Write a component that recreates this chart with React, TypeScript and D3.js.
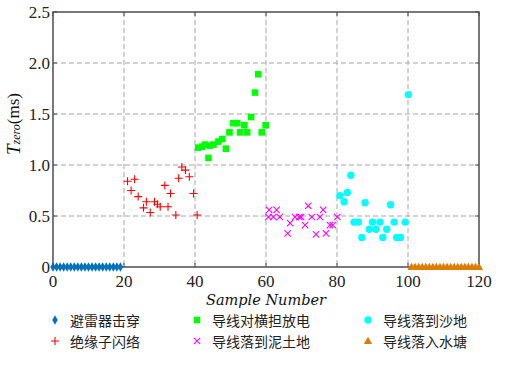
import React from "react";
import * as d3 from "d3";

// 避雷器击穿 (blue diamonds at zero)
const arresterX = [0, 1, 2, 3, 4, 5, 6, 7, 8, 9, 10, 11, 12, 13, 14, 15, 16, 17, 18, 19];
const arresterY = [0, 0, 0, 0, 0, 0, 0, 0, 0, 0, 0, 0, 0, 0, 0, 0, 0, 0, 0, 0];

// 绝缘子闪络
const insulatorX = [21, 22, 23, 24, 25.5, 26.3, 27.4, 28.6, 29.4, 30.2, 31.5, 32.4, 33.1, 34.6, 35.4, 36.3, 37.3, 38.4, 39.6, 40.6];
const insulatorY = [0.84, 0.75, 0.86, 0.69, 0.58, 0.64, 0.535, 0.64, 0.615, 0.59, 0.8, 0.59, 0.72, 0.51, 0.87, 0.98, 0.95, 0.885, 0.72, 0.51];

// 导线对横担放电
const crossarmX = [40.9, 42, 42.8, 43.8, 44.2, 45.2, 46.6, 47.7, 48.7, 49.7, 50.8, 51.9, 52.7, 53.9, 54.7, 55.8, 56.9, 57.8, 58.8, 59.9];
const crossarmY = [1.17, 1.18, 1.2, 1.07, 1.19, 1.2, 1.23, 1.255, 1.16, 1.32, 1.41, 1.41, 1.32, 1.39, 1.32, 1.47, 1.71, 1.89, 1.32, 1.39];

// 导线落到泥土地
const mudX = [60.9, 60.7, 62.1, 63, 63.9, 66.1, 66.8, 68.2, 69.4, 69.9, 71, 71.9, 72.9, 74.1, 75.2, 76.1, 76.9, 78, 78.8, 80.1];
const mudY = [0.56, 0.49, 0.49, 0.56, 0.49, 0.33, 0.43, 0.49, 0.49, 0.49, 0.41, 0.6, 0.49, 0.32, 0.49, 0.56, 0.33, 0.41, 0.41, 0.49];

// 导线落到沙地
const sandX = [80.8, 82, 82.9, 83.9, 84.8, 86, 87, 87.9, 89.1, 90, 91, 92.1, 92.9, 94, 95.1, 96.1, 96.8, 97.9, 99.2, 100.1];
const sandY = [0.7, 0.64, 0.73, 0.9, 0.44, 0.44, 0.29, 0.63, 0.37, 0.44, 0.37, 0.44, 0.29, 0.37, 0.61, 0.44, 0.29, 0.29, 0.44, 1.69];

// 导线落入水塘 (orange triangles at zero)
const pondX = [101, 102, 103, 104, 105, 106, 107, 108, 109, 110, 111, 112, 113, 114, 115, 116, 117, 118, 119, 120];
const pondY = [0, 0, 0, 0, 0, 0, 0, 0, 0, 0, 0, 0, 0, 0, 0, 0, 0, 0, 0, 0];

const xTicks = [0, 20, 40, 60, 80, 100, 120];
const yTicks = [0, 0.5, 1.0, 1.5, 2.0, 2.5];
const yTickLabels = ["0", "0.5", "1.0", "1.5", "2.0", "2.5"];

const legendNames = ["避雷器击穿", "导线对横担放电", "导线落到沙地", "绝缘子闪络", "导线落到泥土地", "导线落入水塘"];

const BLUE = "#0072BD";
const RED = "#FF0000";
const GREEN = "#00FF00";
const MAGENTA = "#FF00FF";
const CYAN = "#00FFFF";
const ORANGE = "#DC7D00";

type Kind = "diamond" | "plus" | "square" | "x" | "circle" | "triangle";

const diamondPath = d3.symbol().type(d3.symbolDiamond).size(26)()!;
const trianglePath = d3.symbol().type(d3.symbolTriangle).size(30)()!;

const Marker = ({ kind, x, y }: { kind: Kind; x: number; y: number }) => {
  switch (kind) {
    case "diamond":
      return <path d={diamondPath} transform={`translate(${x},${y})`} fill={BLUE} />;
    case "triangle":
      return <path d={trianglePath} transform={`translate(${x},${y + 0.5})`} fill={ORANGE} />;
    case "square":
      return <rect x={x - 3.3} y={y - 3.3} width={6.6} height={6.6} fill={GREEN} />;
    case "circle":
      return <circle cx={x} cy={y} r={3.7} fill={CYAN} />;
    case "plus":
      return (
        <path d={`M${x - 4},${y}H${x + 4}M${x},${y - 4}V${y + 4}`} stroke={RED} strokeWidth={1.1} fill="none" />
      );
    case "x":
      return (
        <path
          d={`M${x - 3.2},${y - 3.2}L${x + 3.2},${y + 3.2}M${x - 3.2},${y + 3.2}L${x + 3.2},${y - 3.2}`}
          stroke={MAGENTA}
          strokeWidth={1.1}
          fill="none"
        />
      );
  }
  return null;
};

const App = () => {
  const left = 53, right = 479, top = 12, bottom = 267;
  const x = d3.scaleLinear().domain([0, 120]).range([left, right]);
  const y = d3.scaleLinear().domain([0, 2.5]).range([bottom, top]);

  const series: { kind: Kind; xs: number[]; ys: number[] }[] = [
    { kind: "plus", xs: insulatorX, ys: insulatorY },
    { kind: "square", xs: crossarmX, ys: crossarmY },
    { kind: "x", xs: mudX, ys: mudY },
    { kind: "circle", xs: sandX, ys: sandY },
    { kind: "diamond", xs: arresterX, ys: arresterY },
    { kind: "triangle", xs: pondX, ys: pondY },
  ];

  const legendKinds: Kind[] = ["diamond", "square", "circle", "plus", "x", "triangle"];
  const legendCols = [55, 197, 368];
  const legendRows = [320, 341];

  const axisColor = "#4d4d4d";
  const gridColor = "#a6a6a6";

  return (
    <svg width={510} height={366} style={{ position: "absolute", left: 0, top: 0, background: "#fff" }}>
      {/* grid */}
      <g stroke={gridColor} strokeWidth={1} strokeDasharray="5,3">
        {xTicks.slice(1, -1).map((t) => (
          <line key={"gx" + t} x1={x(t)} x2={x(t)} y1={top} y2={bottom} />
        ))}
        {yTicks.slice(1, -1).map((t) => (
          <line key={"gy" + t} x1={left} x2={right} y1={y(t)} y2={y(t)} />
        ))}
      </g>

      {/* ticks inward */}
      <g stroke={axisColor} strokeWidth={1}>
        {xTicks.map((t) => (
          <g key={"tx" + t}>
            <line x1={x(t)} x2={x(t)} y1={bottom} y2={bottom - 4} />
            <line x1={x(t)} x2={x(t)} y1={top} y2={top + 4} />
          </g>
        ))}
        {yTicks.map((t) => (
          <g key={"ty" + t}>
            <line x1={left} x2={left + 4} y1={y(t)} y2={y(t)} />
            <line x1={right} x2={right - 4} y1={y(t)} y2={y(t)} />
          </g>
        ))}
      </g>

      {/* box */}
      <rect x={left} y={top} width={right - left} height={bottom - top} fill="none" stroke={axisColor} strokeWidth={1.5} />

      {/* data */}
      {series.map((s, si) => (
        <g key={si}>
          {s.xs.map((v, i) => (
            <Marker key={i} kind={s.kind} x={x(v)} y={y(s.ys[i])} />
          ))}
        </g>
      ))}

      {/* tick labels */}
      <g fontFamily="'Liberation Serif', serif" fontSize={17} fill="#222">
        {yTicks.map((t, i) => (
          <text key={"ly" + t} x={left - 3} y={y(t) + 6} textAnchor="end">
            {yTickLabels[i]}
          </text>
        ))}
        {xTicks.map((t) => (
          <text key={"lx" + t} x={x(t)} y={287} textAnchor="middle">
            {t}
          </text>
        ))}
      </g>

      {/* axis titles */}
      <text
        x={(left + right) / 2}
        y={305}
        textAnchor="middle"
        fontFamily="'DejaVu Serif', serif"
        fontStyle="italic"
        fontSize={14.5}
        fill="#111"
      >
        Sample Number
      </text>
      <text
        transform={`translate(13,124) rotate(-90)`}
        textAnchor="middle"
        dominantBaseline="central"
        fontFamily="'Liberation Serif', serif"
        fontSize={17}
        fill="#111"
      >
        <tspan fontStyle="italic" fontSize={19}>T</tspan>
        <tspan fontStyle="italic" fontSize={12} dy={3}>
          zero
        </tspan>
        <tspan dy={-3}>(ms)</tspan>
      </text>

      {/* legend */}
      {legendNames.map((name, i) => {
        const cx = legendCols[i % 3];
        const cy = legendRows[Math.floor(i / 3)];
        return (
          <g key={name}>
            <Marker kind={legendKinds[i]} x={cx} y={cy} />
            <text
              x={cx + 15}
              y={cy}
              dominantBaseline="central"
              fontFamily="'Noto Sans CJK SC', sans-serif"
              fontSize={14}
              fill="#222"
            >
              {name}
            </text>
          </g>
        );
      })}
    </svg>
  );
};

export default App;
